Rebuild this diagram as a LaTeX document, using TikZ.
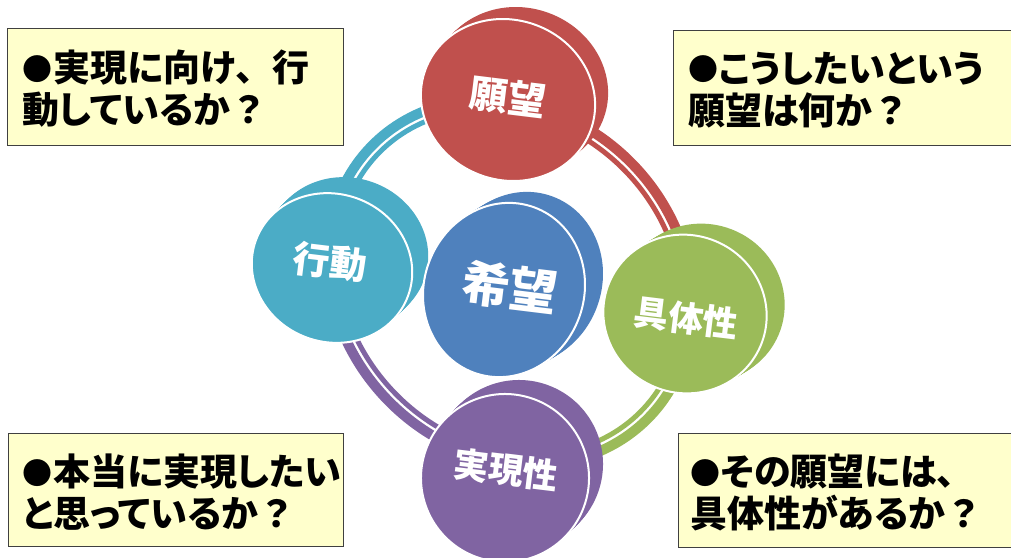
\documentclass[tikz,border=0pt]{standalone}
\usepackage{fontspec}
\newfontfamily\jp{Noto Sans CJK JP}
\newfontfamily\jpp[RawFeature=+palt]{Noto Sans CJK JP}
\definecolor{cred}{HTML}{C0504D}
\definecolor{cteal}{HTML}{4BACC6}
\definecolor{cblue}{HTML}{4F81BD}
\definecolor{cgreen}{HTML}{9BBB59}
\definecolor{cpurple}{HTML}{8064A2}
\definecolor{boxfill}{HTML}{FFFFCC}
\definecolor{boxline}{HTML}{404040}
\newcommand\bul{\raisebox{1.5pt}{\fontsize{30}{30}\selectfont ●}\kern1pt}
\newcommand\fw[1]{{\jp #1}}
% disc: x, y, rx, ry, rotation, dx, dy, colour
\newcommand\mydisc[8]{%
  \foreach \t in {0,0.1,...,1.01}{%
    \fill[#8, rotate around={#5:(#1+\t*#6,#2+\t*#7)}] (#1+\t*#6,#2+\t*#7) ellipse [x radius=#3, y radius=#4];
  }%
  \fill[#8, draw=white, line width=2pt, rotate around={#5:(#1,#2)}] (#1,#2) ellipse [x radius=#3, y radius=#4];
}
% ring band: start, end angle, colour
\newcommand\myband[3]{%
  \draw[#3, line width=10pt] (#1:194 and 170) arc[start angle=#1, end angle=#2, x radius=194, y radius=170];
  \draw[#3, line width=5pt] (#1:184 and 160) arc[start angle=#1, end angle=#2, x radius=184, y radius=160];
}
\begin{document}
\begin{tikzpicture}[x=1pt,y=-1pt,
  qbox/.style={draw=boxline, line width=1.2pt, fill=boxfill, anchor=north west, inner sep=0pt},
  qtext/.style={anchor=west, inner sep=0pt, align=left,
    font=\jpp\bfseries\fontsize{37}{42}\selectfont},
  dlabel/.style={text=white, rotate=-7, font=\jp\bfseries\fontsize{#1}{#1}\selectfont}]
\useasboundingbox (0,0) rectangle (1011,557);
\fill[white] (0,0) rectangle (1011,557);

% ring
\begin{scope}[shift={(510,282)}, rotate=-45]
  \myband{136}{228}{cteal}
  \myband{228}{322}{cred}
  \myband{322}{410}{cgreen}
  \myband{50}{136}{cpurple}
\end{scope}

% discs
\mydisc{332}{268}{81}{74}{-20}{16}{-16}{cteal}
\mydisc{508}{100}{88}{80}{-20}{13}{-12}{cred}
\mydisc{504}{290}{80}{88}{-20}{18}{-11}{cblue}
\mydisc{685}{314}{82}{79}{-20}{18}{-11}{cgreen}
\mydisc{505}{478}{84}{84}{-20}{14}{-14}{cpurple}

\node[dlabel=38] (wish) at (508,97) {願望};
\node[dlabel=37] (act) at (330,262) {行動};
\node[dlabel=48] (hope) at (510,287) {希望};
\node[dlabel=35] (conc) at (686,318) {具体性};
\node[dlabel=35] (feas) at (506,470) {実現性};

% question boxes
\node[qbox, minimum width=336pt, minimum height=117pt] (qtl) at (7,28) {};
\node[qbox, minimum width=340pt, minimum height=115pt] (qtr) at (673,30) {};
\node[qbox, minimum width=335pt, minimum height=113pt] (qbl) at (8,433) {};
\node[qbox, minimum width=336pt, minimum height=114pt] (qbr) at (678,433) {};
\node[qtext] (ttl) at ([xshift=15pt,yshift=-2pt]qtl.west) {\bul 実現に向け\fw{、}行\\動しているか\fw{？}};
\node[qtext] (ttr) at ([xshift=15pt,yshift=-2pt]qtr.west) {\bul こうしたいという\\願望は何か\fw{？}};
\node[qtext] (tbl) at ([xshift=14pt,yshift=-2pt]qbl.west) {\bul 本当に実現したい\\と思っているか\fw{？}};
\node[qtext] (tbr) at ([xshift=12pt,yshift=-2pt]qbr.west) {\bul その願望には\fw{、}\\具体性があるか\fw{？}};
\end{tikzpicture}
\end{document}
